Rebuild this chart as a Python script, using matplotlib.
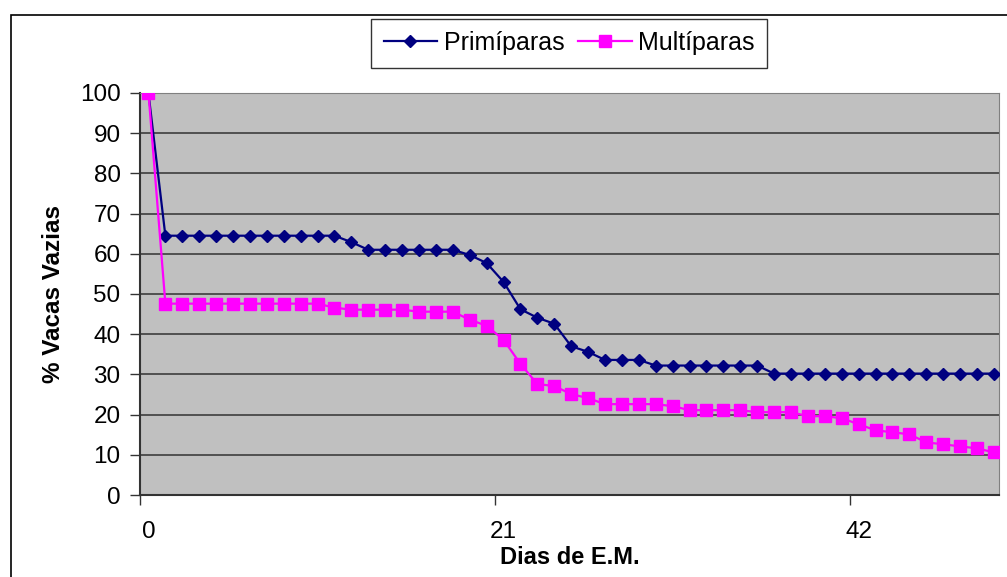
import matplotlib.pyplot as plt
from matplotlib.patches import Rectangle

# Percentage of empty cows per day since start of breeding season
dias = list(range(51))
primiparas = [100.0] + [64.5] * 11 + [62.9] + [61.0] * 6 + [59.7, 57.7, 53.0, 46.2, 44.1, 42.6,
              37.0, 35.6] + [33.6] * 3 + [32.2] * 7 + [30.2] * 14
multiparas = [100.0] + [47.6] * 10 + [46.6] + [46.1] * 4 + [45.6] * 3 + [43.6, 42.1, 38.6, 32.6,
              27.6, 27.1, 25.1, 24.1] + [22.6] * 4 + [22.1] + [21.1] * 4 + [20.6] * 3 + \
             [19.6] * 2 + [19.1, 17.6, 16.1, 15.6, 15.1, 13.1, 12.6, 12.1, 11.6, 10.6]

x_labels = ['0', '21', '42']
y_ticks = list(range(0, 101, 10))

plt.rcParams['font.family'] = ['Liberation Sans', 'DejaVu Sans']

fig = plt.figure(figsize=(10.07, 5.77), dpi=100)
ax = fig.add_axes([140 / 1007, 1 - 495 / 577, 859 / 1007, 402 / 577])
ax.set_facecolor('#c0c0c0')

ax.plot(dias, primiparas, color='#000080', linewidth=1.6, marker='D', markersize=6.2,
        label='Primíparas', zorder=3)
ax.plot(dias, multiparas, color='#ff00ff', linewidth=1.6, marker='s', markersize=9,
        label='Multíparas', zorder=4)

ax.set_xlim(-0.5, 50.3)
ax.set_ylim(0, 100)
ax.set_yticks(y_ticks)
ax.yaxis.grid(True, color='#333333', linewidth=1.1)
ax.set_axisbelow(True)

# tick marks sit between categories, labels in the category centre
ax.set_xticks([-0.5, 20.5, 41.5])
ax.set_xticklabels([])
ax.set_xticks([0, 21, 42], labels=x_labels, minor=True)
ax.tick_params(axis='x', which='major', length=7, width=1, color='#333333', direction='out')
ax.tick_params(axis='x', which='minor', length=0, pad=19, labelsize=17.5)
ax.tick_params(axis='y', length=7, width=1, color='#333333', direction='out', pad=7,
               labelsize=17.5)

for side in ('top', 'right'):
    ax.spines[side].set_color('#808080')
for side in ('left', 'bottom'):
    ax.spines[side].set_color('#333333')
    ax.spines[side].set_linewidth(1.5)

ax.set_xlabel('Dias de E.M.', fontsize=17, fontweight='bold', labelpad=2)
ax.set_ylabel('% Vacas Vazias', fontsize=17.5, fontweight='bold')
ax.yaxis.set_label_coords(-0.087, 0.5)

fig.legend(loc='center', bbox_to_anchor=(569 / 1007, 1 - 43 / 577), ncol=2, fontsize=18,
           frameon=True, fancybox=False, edgecolor='#333333', framealpha=1,
           handlelength=2.15, handletextpad=0.25, columnspacing=0.55, borderpad=0.5,
           borderaxespad=0)

# chart area frame
fig.patches.append(Rectangle((11 / 1007, -0.1), 1.2, 1.1 - 15 / 577, transform=fig.transFigure,
                             fill=False, edgecolor='black', linewidth=1.2))

fig.savefig('out.png', dpi=100)
